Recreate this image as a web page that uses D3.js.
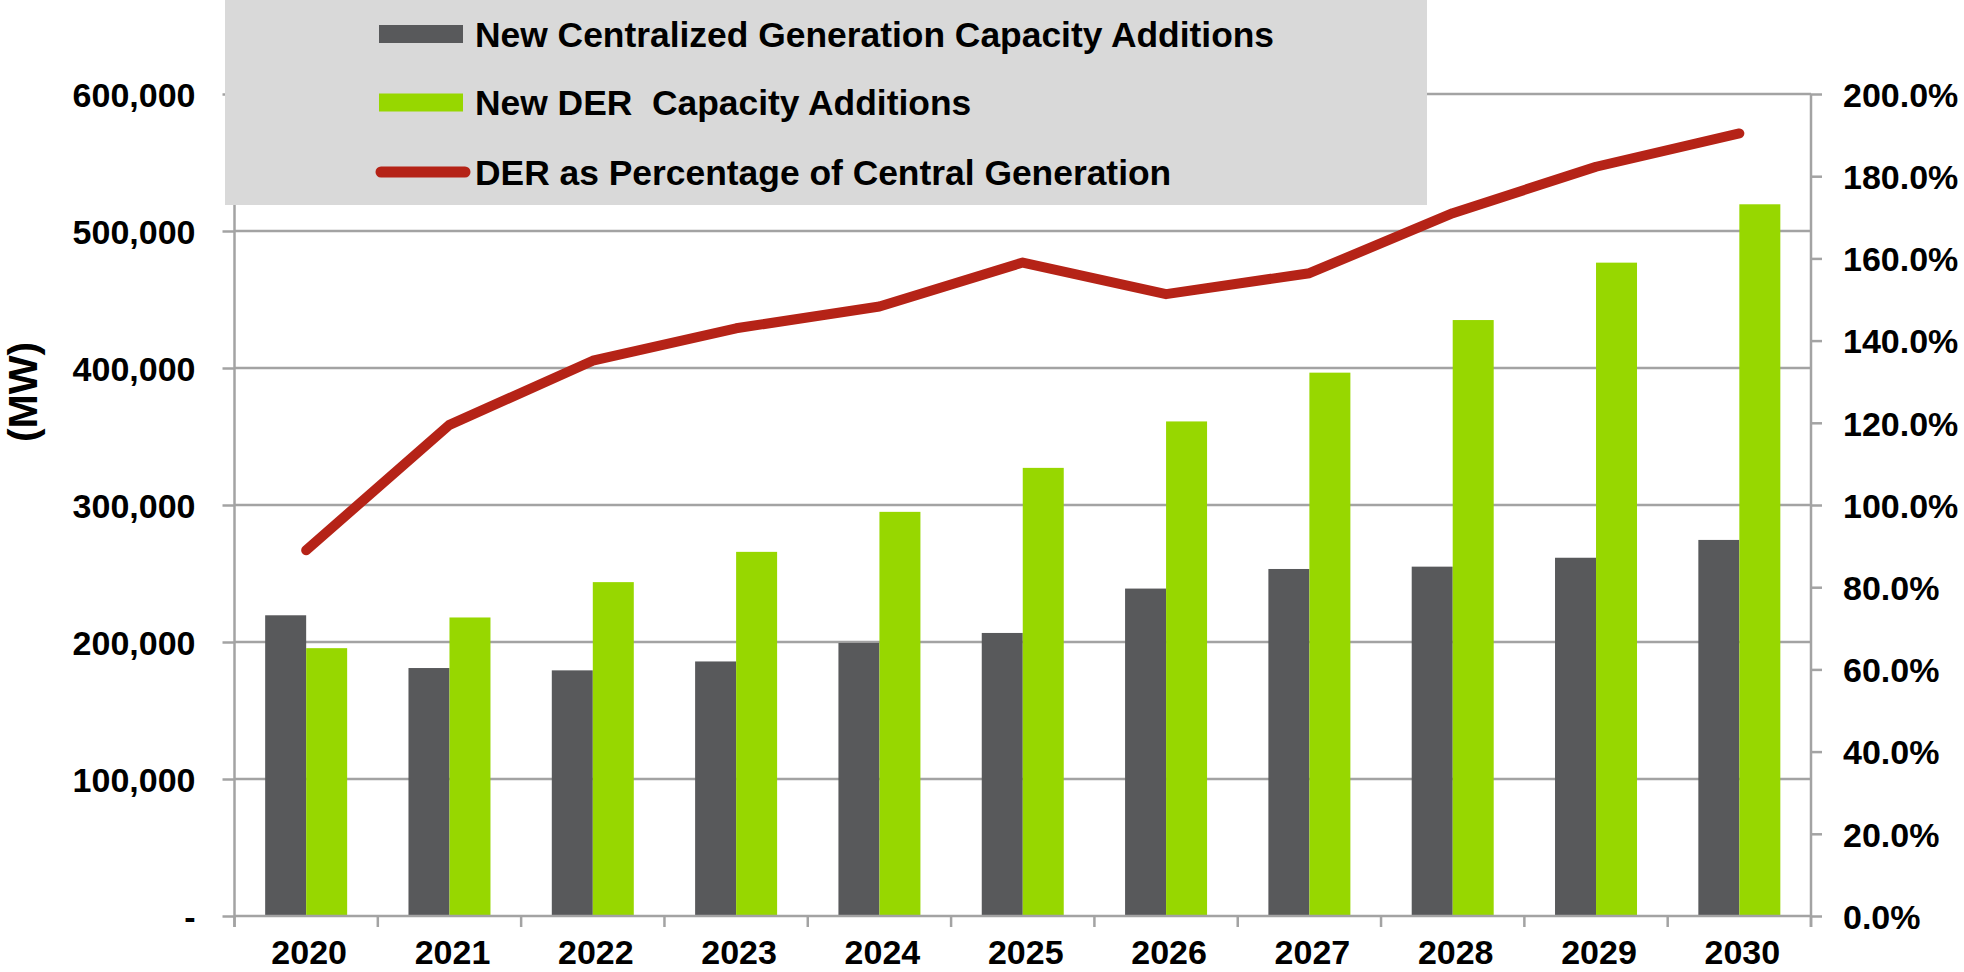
<!DOCTYPE html>
<html>
<head>
<meta charset="utf-8">
<script src="https://cdn.jsdelivr.net/npm/d3@7"></script>
<style>
  html, body { margin: 0; padding: 0; background: #fff; }
  svg text { font-family: "Liberation Sans", Arial, sans-serif; font-weight: bold; fill: #000; }
  .legend text { white-space: pre; }
</style>
</head>
<body>
<svg id="chart" width="1964" height="972"></svg>
<script>
// chart values
var years = ["2020", "2021", "2022", "2023", "2024", "2025", "2026", "2027", "2028", "2029", "2030"];
var centralMW = [219500, 181000, 179300, 185800, 199300, 206600, 239000, 253300, 255000, 261500, 274500];
var derMW = [195500, 217900, 243700, 265800, 295000, 327100, 361000, 396600, 435000, 476900, 519500];
var derPct = [0.890, 1.195, 1.351, 1.430, 1.483, 1.590, 1.513, 1.564, 1.710, 1.823, 1.904];
var mwTicks = [0, 100000, 200000, 300000, 400000, 500000, 600000];
var pctTicks = [0, 0.2, 0.4, 0.6, 0.8, 1.0, 1.2, 1.4, 1.6, 1.8, 2.0];
var legendLabels = [
    "New Centralized Generation Capacity Additions",
    "New DER  Capacity Additions",
    "DER as Percentage of Central Generation"
];

var colors = { central: "#58595b", der: "#97d700", line: "#b52317", grid: "#a3a3a3", legend: "#d9d9d9" };

var svg = d3.select("#chart");

var plotLeft = 234.5, plotRight = 1811, plotBottom = 916, plotTop = 94;

var x = d3.scaleBand().domain(years).range([plotLeft, plotRight]).paddingInner(0).paddingOuter(0);
var xSub = d3.scaleBand().domain(["central", "der"]).range([0, x.bandwidth()]).paddingInner(0).paddingOuter(0.748);
var y = d3.scaleLinear().domain([0, 600000]).range([plotBottom, plotTop]);
var y2 = d3.scaleLinear().domain([0, 2]).range([plotBottom, plotTop]);

// gridlines
svg.append("g")
    .selectAll("line")
    .data(mwTicks.filter(function (d) { return d > 0; }))
    .enter().append("line")
    .attr("x1", plotLeft).attr("x2", plotRight)
    .attr("y1", function (d) { return y(d); })
    .attr("y2", function (d) { return y(d); })
    .attr("stroke", colors.grid)
    .attr("stroke-width", 2.5);

// bars
var groups = svg.append("g").selectAll("g")
    .data(years)
    .enter().append("g")
    .attr("transform", function (d) { return "translate(" + x(d) + ",0)"; });

groups.append("rect")
    .attr("x", xSub("central"))
    .attr("width", xSub.bandwidth())
    .attr("y", function (d, i) { return y(centralMW[i]); })
    .attr("height", function (d, i) { return plotBottom - y(centralMW[i]); })
    .attr("fill", colors.central);

groups.append("rect")
    .attr("x", xSub("der"))
    .attr("width", xSub.bandwidth())
    .attr("y", function (d, i) { return y(derMW[i]); })
    .attr("height", function (d, i) { return plotBottom - y(derMW[i]); })
    .attr("fill", colors.der);

// left axis
var leftAxis = svg.append("g")
    .attr("transform", "translate(" + plotLeft + ",0)")
    .call(d3.axisLeft(y).tickValues(mwTicks).tickSize(12).tickPadding(27)
        .tickFormat(function (d) { return d === 0 ? "-" : d3.format(",")(d); }));

// right axis
var rightAxis = svg.append("g")
    .attr("transform", "translate(" + plotRight + ",0)")
    .call(d3.axisRight(y2).tickValues(pctTicks).tickSize(11).tickPadding(21)
        .tickFormat(d3.format(".1%")));

// bottom axis, ticks at the band edges
var bottomAxis = svg.append("g")
    .attr("transform", "translate(0," + plotBottom + ")")
    .call(d3.axisBottom(x).tickSize(0).tickPadding(24));

bottomAxis.selectAll(".edge")
    .data(years.concat(["end"]))
    .enter().append("line")
    .attr("class", "edge")
    .attr("x1", function (d, i) { return plotLeft + i * x.step(); })
    .attr("x2", function (d, i) { return plotLeft + i * x.step(); })
    .attr("y1", 0).attr("y2", 11);

[leftAxis, rightAxis, bottomAxis].forEach(function (g) {
    g.select(".domain").attr("stroke", colors.grid).attr("stroke-width", 2.5);
    g.selectAll("line").attr("stroke", colors.grid).attr("stroke-width", 2.5);
    g.selectAll("text").attr("font-size", 34).attr("font-family", null).attr("fill", "#000");
});
leftAxis.select(".domain").attr("d", "M0," + (plotBottom + 11) + "V" + 0);
rightAxis.select(".domain").attr("d", "M0," + (plotBottom + 11) + "V" + plotTop);
bottomAxis.select(".domain").attr("d", "M" + plotLeft + ",0H" + plotRight);
leftAxis.selectAll("text").attr("dy", "0.36em");
rightAxis.selectAll("text").attr("dy", "0.36em");
bottomAxis.selectAll("text").attr("dy", "0.72em").attr("dx", 3);

// percentage line
var line = d3.line()
    .x(function (d, i) { return x(years[i]) + x.bandwidth() / 2; })
    .y(function (d) { return y2(d); });

svg.append("path")
    .datum(derPct)
    .attr("d", line)
    .attr("fill", "none")
    .attr("stroke", colors.line)
    .attr("stroke-width", 10)
    .attr("stroke-linejoin", "round")
    .attr("stroke-linecap", "round");

// y title
svg.append("text")
    .attr("transform", "translate(37,392) rotate(-90)")
    .attr("text-anchor", "middle")
    .attr("font-size", 41)
    .text("(MW)");

// legend
var legend = svg.append("g").attr("class", "legend");
legend.append("rect")
    .attr("x", 225).attr("y", 0)
    .attr("width", 1202).attr("height", 205)
    .attr("fill", colors.legend);

var rowY = [34, 102.5, 172];

legend.append("rect")
    .attr("x", 379).attr("y", rowY[0] - 9).attr("width", 84).attr("height", 18)
    .attr("fill", colors.central);
legend.append("rect")
    .attr("x", 379).attr("y", rowY[1] - 9).attr("width", 84).attr("height", 18)
    .attr("fill", colors.der);
legend.append("line")
    .attr("x1", 381).attr("x2", 465)
    .attr("y1", rowY[2]).attr("y2", rowY[2])
    .attr("stroke", colors.line).attr("stroke-width", 11).attr("stroke-linecap", "round");

legend.selectAll("text")
    .data(legendLabels)
    .enter().append("text")
    .attr("x", 475)
    .attr("y", function (d, i) { return rowY[i]; })
    .attr("dy", "0.36em")
    .attr("font-size", 35.4)
    .text(function (d) { return d; });
</script>
</body>
</html>
